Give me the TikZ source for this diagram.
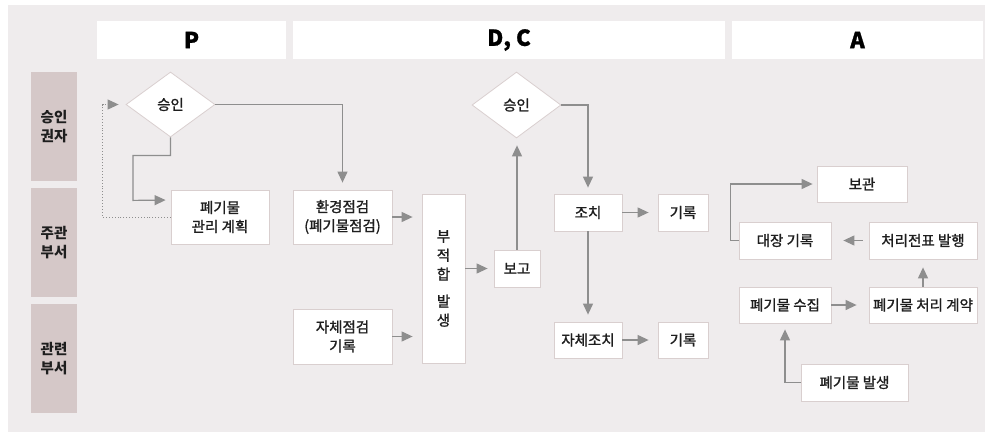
\documentclass[tikz,border=0pt]{standalone}
\usepackage{fontspec}
\setmainfont{Noto Sans CJK KR}
\newfontfamily\krmed{Noto Sans CJK KR}[FakeBold=1.3]
\newfontfamily\krhd{Noto Sans CJK KR}[BoldFeatures={FakeBold=1.2}]
\usetikzlibrary{arrows.meta,shapes.geometric}
\definecolor{bgc}{HTML}{EFECED}
\definecolor{lblc}{HTML}{D5C8C8}
\definecolor{bdc}{HTML}{D9CFCF}
\definecolor{arc}{HTML}{8E8E8E}
\definecolor{txc}{HTML}{1E1E1E}
\begin{document}
\begin{tikzpicture}[x=1pt,y=-1pt,
  box/.style={draw=bdc, line width=0.8pt, fill=white, inner sep=0pt, align=center,
    font=\krmed\fontsize{14.5}{19}\selectfont, text=txc},
  hdr/.style={fill=white, inner sep=0pt, minimum height=38pt,
    font=\krhd\fontsize{22}{26}\selectfont\bfseries, text=black},
  lbl/.style={fill=lblc, inner sep=0pt, minimum width=46pt, minimum height=109pt, align=center,
    font=\fontsize{14.5}{18.5}\selectfont\bfseries, text=txc},
  dia/.style={diamond, draw=bdc, fill=white, line width=0.8pt, inner sep=0pt,
    minimum width=89pt, minimum height=65pt, font=\krmed\fontsize{14.5}{19}\selectfont, text=txc},
  conn/.style={draw=arc, line width=1.2pt, -{Triangle[length=11pt,width=10pt]}, shorten >=7pt},
  dotline/.style={draw=arc, line width=0.9pt, dotted, -{Triangle[length=11pt,width=10pt]}, shorten >=7pt}
]
\useasboundingbox (0,0) rectangle (985,432);
\fill[bgc] (8,5) rectangle (985,432);

% headers
\node[hdr, minimum width=189pt] (hP) at (191.5,40) {P};
\node[hdr, minimum width=432pt] (hDC) at (509,40) {D, C};
\node[hdr, minimum width=251pt] (hA) at (857.5,40) {A};

% lane labels
\node[lbl] (l1) at (54,126.5) {승인\\권자};
\node[lbl] (l2) at (54,242.5) {주관\\부서};
\node[lbl] (l3) at (54,358.5) {관련\\부서};

% P
\node[dia] (d1) at (170.5,104.5) {승인};
\node[box, minimum width=98pt, minimum height=54pt] (plan) at (220,217) {폐기물\\관리 계획};

% D, C
\node[box, minimum width=99pt, minimum height=54pt] (env) at (342.5,217) {환경점검\\(폐기물점검)};
\node[box, minimum width=99pt, minimum height=55pt] (self) at (342.5,336.5) {자체점검\\기록};
\node[box, minimum width=43pt, minimum height=169pt] (nc) at (443.5,278.5) {부\\적\\합\\[8pt]발\\생};
\node[box, minimum width=46pt, minimum height=37pt] (rep) at (517,268.5) {보고};
\node[dia, minimum height=66pt] (d2) at (516.5,105) {승인};
\node[box, minimum width=68pt, minimum height=37pt] (act) at (588,212.5) {조치};
\node[box, minimum width=50pt, minimum height=37pt] (rec1) at (683,212.5) {기록};
\node[box, minimum width=68pt, minimum height=36pt] (sact) at (588,340) {자체조치};
\node[box, minimum width=50pt, minimum height=36pt] (rec2) at (683,340) {기록};

% A
\node[box, minimum width=90pt, minimum height=36pt] (keep) at (862,184) {보관};
\node[box, minimum width=92pt, minimum height=37pt] (ledger) at (785,240.5) {대장 기록};
\node[box, minimum width=108pt, minimum height=37pt] (slip) at (923,240.5) {처리전표 발행};
\node[box, minimum width=92pt, minimum height=36pt] (collect) at (785,305) {폐기물 수집};
\node[box, minimum width=108pt, minimum height=36pt] (contract) at (923,305) {폐기물 처리 계약};
\node[box, minimum width=107pt, minimum height=37pt] (gen) at (854.5,382.5) {폐기물 발생};

% connectors P
\draw[conn] (d1.east) -| (env.north);
\draw[conn, shorten >=5pt] (d1.south) -- ++(0,18) -| ++(-37.5,45) -- ([yshift=17pt]plan.west);
\draw[dotline] (plan.west) -- ++(-68,0) |- (d1.west);

% connectors D, C
\draw[conn, shorten >=9pt] (env.east) -- (env.east -| nc.west);
\draw[conn, shorten >=9pt] (self.east) -- (self.east -| nc.west);
\draw[conn, shorten >=6pt] (rep.west -| nc.east) -- (rep.west);
\draw[conn] (rep.north) -- (rep.north |- d2.south);
\draw[conn, shorten >=6pt] (d2.east) -| (act.north);
\draw[conn, shorten >=9pt] (act.east) -- (rec1.west);
\draw[conn, shorten >=9pt] (sact.east) -- (rec2.west);
\draw[conn] (act.south) -- (sact.north);

% connectors A
\draw[conn, shorten >=4pt] (ledger.west) -- ++(-8,0) |- (keep.west);
\draw[conn, shorten <=6pt, shorten >=12pt] (slip.west) -- (ledger.east);
\draw[conn, shorten >=12pt] (collect.east) -- (contract.west);
\draw[conn, shorten >=8pt] (contract.north) -- (slip.south);
\draw[conn, shorten >=6pt] (gen.west) -- ++(-15,0) -| (collect.south);
\end{tikzpicture}
\end{document}
